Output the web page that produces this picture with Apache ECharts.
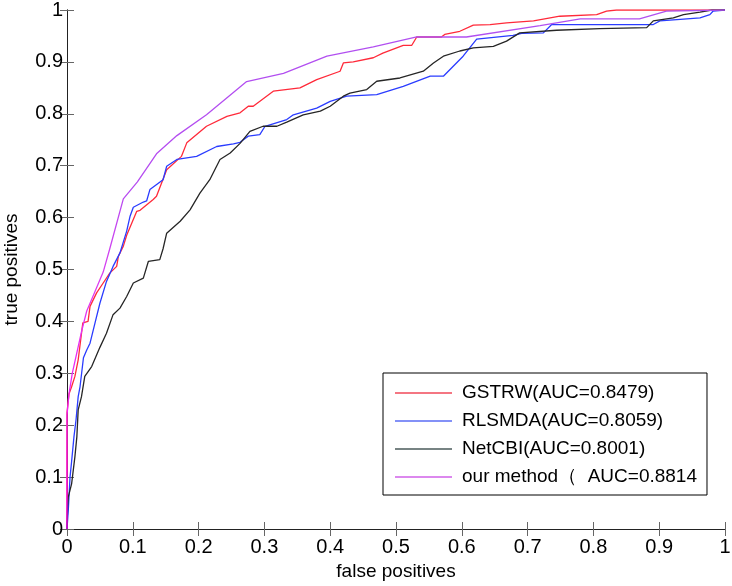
<!DOCTYPE html>
<html>
<head>
<meta charset="utf-8">
<script src="https://cdn.jsdelivr.net/npm/echarts@6/dist/echarts.min.js"></script>
<style>html,body{margin:0;padding:0;background:#fff}#c{width:732px;height:586px}</style>
</head>
<body>
<div id="c"></div>
<script>
const seriesNames = ['GSTRW(AUC=0.8479)', 'RLSMDA(AUC=0.8059)', 'NetCBI(AUC=0.8001)', 'our method\uFF08  AUC=0.8814'];
const xTicks = [0, 0.1, 0.2, 0.3, 0.4, 0.5, 0.6, 0.7, 0.8, 0.9, 1];
const yTicks = [0, 0.1, 0.2, 0.3, 0.4, 0.5, 0.6, 0.7, 0.8, 0.9, 1];

const gstrw = [[0,0],[0,0.224],[0.003,0.26],[0.007,0.274],[0.012,0.294],[0.017,0.326],[0.024,0.397],[0.032,0.40],[0.035,0.429],[0.045,0.455],[0.055,0.474],[0.065,0.493],[0.0755,0.506],[0.078,0.525],[0.0856,0.545],[0.0907,0.566],[0.106,0.612],[0.111,0.614],[0.131,0.635],[0.136,0.641],[0.1515,0.692],[0.174,0.718],[0.182,0.744],[0.212,0.776],[0.243,0.795],[0.263,0.802],[0.2755,0.8145],[0.283,0.8145],[0.3135,0.8435],[0.354,0.85],[0.3795,0.866],[0.415,0.882],[0.42,0.898],[0.435,0.9],[0.4655,0.908],[0.48,0.917],[0.511,0.932],[0.524,0.932],[0.5315,0.948],[0.569,0.948],[0.574,0.953],[0.597,0.959],[0.6175,0.971],[0.643,0.972],[0.668,0.975],[0.709,0.979],[0.749,0.988],[0.805,0.991],[0.82,0.998],[0.835,1],[1,1]];

const rlsmda = [[0,0],[0.002,0.037],[0.0046,0.10],[0.007,0.13],[0.0106,0.178],[0.0137,0.21],[0.017,0.255],[0.0198,0.274],[0.025,0.33],[0.03,0.345],[0.035,0.358],[0.0426,0.397],[0.05,0.435],[0.06,0.477],[0.07,0.506],[0.0805,0.532],[0.0907,0.574],[0.0957,0.602],[0.1008,0.62],[0.116,0.63],[0.121,0.632],[0.126,0.654],[0.146,0.673],[0.1515,0.699],[0.167,0.712],[0.197,0.718],[0.2275,0.737],[0.253,0.742],[0.263,0.745],[0.2755,0.757],[0.293,0.76],[0.301,0.776],[0.334,0.789],[0.344,0.798],[0.3795,0.811],[0.40,0.824],[0.425,0.834],[0.4707,0.837],[0.511,0.853],[0.552,0.8725],[0.572,0.8725],[0.602,0.911],[0.6226,0.944],[0.678,0.951],[0.691,0.955],[0.724,0.956],[0.7366,0.972],[0.891,0.972],[0.901,0.979],[0.932,0.982],[0.962,0.985],[0.977,0.991],[0.982,0.998],[1,1]];

const netcbi = [[0,0],[0.001,0.045],[0.002,0.062],[0.007,0.087],[0.012,0.139],[0.015,0.178],[0.017,0.2295],[0.022,0.255],[0.027,0.294],[0.0375,0.313],[0.05,0.35],[0.06,0.377],[0.07,0.413],[0.0805,0.4256],[0.0907,0.448],[0.1008,0.474],[0.116,0.4835],[0.1236,0.5155],[0.141,0.519],[0.146,0.54],[0.1515,0.570],[0.172,0.593],[0.187,0.615],[0.202,0.647],[0.217,0.673],[0.2325,0.712],[0.248,0.7246],[0.263,0.743],[0.278,0.766],[0.298,0.776],[0.319,0.776],[0.334,0.784],[0.359,0.798],[0.385,0.805],[0.40,0.8145],[0.42,0.834],[0.43,0.84],[0.4555,0.8467],[0.4707,0.8627],[0.506,0.869],[0.5415,0.882],[0.557,0.898],[0.572,0.911],[0.597,0.921],[0.6175,0.927],[0.648,0.93],[0.668,0.94],[0.688,0.956],[0.744,0.961],[0.81,0.964],[0.881,0.966],[0.891,0.979],[0.9215,0.985],[0.937,0.991],[0.962,0.996],[0.98,1],[1,1]];

const ours = [[0,0],[0,0.22],[0.003,0.26],[0.008,0.3],[0.015,0.34],[0.022,0.38],[0.03,0.42],[0.04,0.45],[0.055,0.495],[0.065,0.54],[0.0856,0.636],[0.107,0.669],[0.136,0.723],[0.167,0.758],[0.212,0.798],[0.273,0.862],[0.329,0.878],[0.395,0.911],[0.4655,0.929],[0.5315,0.948],[0.607,0.948],[0.719,0.970],[0.78,0.983],[0.87,0.983],[0.911,0.998],[1,1]];

const colors = ['#ff2a3a', '#2a3cff', '#262626', '#b64cf0'];
const legendColors = ['#f04858', '#5a6cf4', '#4a5a5a', '#d060e8'];
const FONT = '"Liberation Sans", Arial, sans-serif';

const chart = echarts.init(document.getElementById('c'), null, {renderer: 'canvas'});
const axisCommon = {
  type: 'value', min: 0, max: 1, interval: 0.1,
  splitLine: {show: false},
  axisLine: {show: true, lineStyle: {color: '#222', width: 1}},
  axisTick: {show: true, inside: true, length: 7, lineStyle: {color: '#666', width: 1}}
};
const purpleGrad = new echarts.graphic.LinearGradient(0, 1, 0, 0, [
  {offset: 0, color: '#ff00ff'}, {offset: 0.45, color: '#e03cf0'}, {offset: 0.65, color: '#b64cf0'}, {offset: 1, color: '#b050f0'}
]);
const datasets = [gstrw, rlsmda, netcbi, ours];
chart.setOption({
  animation: false,
  backgroundColor: '#fff',
  grid: {left: 67, right: 7, top: 10, bottom: 57, containLabel: false, outerBoundsMode: 'none'},
  xAxis: [
    Object.assign({}, axisCommon, {
      position: 'bottom',
      name: 'false positives', nameLocation: 'middle', nameGap: 33,
      nameTextStyle: {fontSize: 19, fontFamily: FONT, color: '#000'},
      axisLabel: {fontSize: 20, fontFamily: FONT, color: '#000', margin: 8,
        formatter: v => String(xTicks.find(t => Math.abs(t - v) < 1e-9) ?? v)}
    }),
    Object.assign({}, axisCommon, {position: 'top', axisLabel: {show: false}})
  ],
  yAxis: [
    Object.assign({}, axisCommon, {
      position: 'left',
      name: 'true positives', nameLocation: 'middle', nameGap: 46,
      nameTextStyle: {fontSize: 19, fontFamily: FONT, color: '#000'},
      axisLabel: {fontSize: 20, fontFamily: FONT, color: '#000', margin: 4,
        formatter: v => String(yTicks.find(t => Math.abs(t - v) < 1e-9) ?? v)}
    }),
    Object.assign({}, axisCommon, {position: 'right', axisLabel: {show: false}})
  ],
  legend: {
    orient: 'vertical', left: 383, top: 373,
    padding: [10, 10, 8, 12], itemWidth: 57, itemHeight: 1.4, itemGap: 8,
    icon: 'rect',
    borderColor: '#000', borderWidth: 1, backgroundColor: '#fff',
    textStyle: {fontSize: 19, lineHeight: 20, fontFamily: FONT, color: '#000', padding: [0, 0, 0, 5]},
    data: seriesNames.map((n, i) => ({name: n, itemStyle: {color: legendColors[i]}}))
  },
  series: datasets.map((d, i) => ({
    name: seriesNames[i], type: 'line', data: d,
    symbol: 'none', showSymbol: false,
    color: colors[i],
    lineStyle: {width: 1.3, color: i === 3 ? purpleGrad : colors[i]},
    z: 2 + (i === 3 ? 1 : 0)
  }))
});
</script>
</body>
</html>
